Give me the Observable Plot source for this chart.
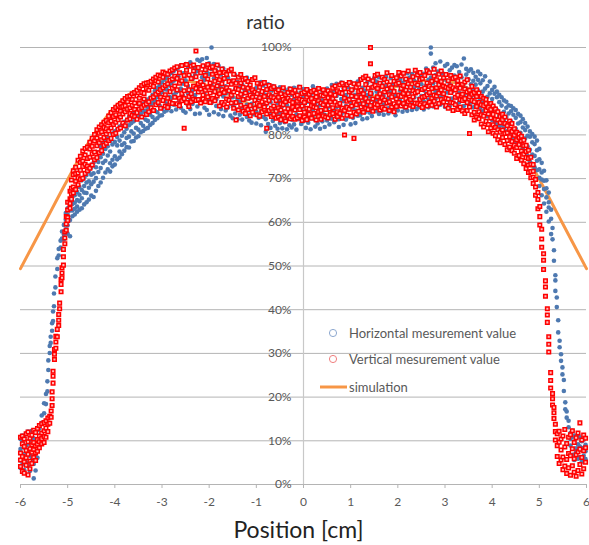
<!DOCTYPE html>
<html>
<head>
<meta charset="utf-8">
<script src="https://cdn.jsdelivr.net/npm/d3@7"></script>
<script src="https://cdn.jsdelivr.net/npm/@observablehq/plot@0.6"></script>
<style>
  html, body { margin: 0; padding: 0; background: #fff; }
  #wrap { position: relative; width: 589px; height: 545px; font-family: Lato, "Open Sans", sans-serif; }
  .lg { position: absolute; font-size: 13px; color: #595959; white-space: nowrap; line-height: 16px; }
  .lgsym { position: absolute; }
</style>
</head>
<body>
<div id="wrap"></div>
<script>
// ---- data (values in %) ----
const xTicks = [-6,-5,-4,-3,-2,-1,0,1,2,3,4,5,6];
const yTicks = [0,10,20,30,40,50,60,70,80,90,100];
const seriesNames = ["Horizontal mesurement value", "Vertical mesurement value", "simulation"];

const simX = [-6,-5.5,-5,-4.5,-4,-3.5,-3,-2.5,-2,-1.5,-1,-0.5,0,0.5,1,1.5,2,2.5,3,3.5,4,4.5,5,5.5,6];
const simY = [49.4,59.6,69.8,79.2,86.4,90.6,92.5,92.4,91.2,88.8,86.4,84.6,84.0,84.6,86.4,88.8,91.2,92.4,92.5,90.6,86.4,79.2,69.8,59.6,49.4];

// Horizontal measurement: [position cm, [ratio values %]]
const horizontal = [
[-6.00,[5.5,8.1,10.4,3.8]],[-5.96,[7.0,9.6,4.6,11.2]],[-5.92,[6.2,10.8,8.4,3.3]],[-5.88,[5.1,8.9,11.6,6.8]],
[-5.84,[4.2,9.4,7.2,12.1]],[-5.80,[6.6,10.2,8.0,3.1]],[-5.76,[5.8,9.0,12.3,7.3]],[-5.72,[1.4,8.2,10.6,4.7]],
[-5.68,[3.2,7.0,11.8,9.6]],[-5.64,[8.8,12.4,10.1,6.1]],[-5.60,[11.2,12.8,9.5]],[-5.55,[14.1,15.8]],
[-5.50,[16.3,18.6]],[-5.46,[18.4,20.7]],[-5.43,[21.3,23.6]],[-5.41,[26.2,28.4]],[-5.38,[30.1,31.7]],
[-5.36,[32.4,33.8]],[-5.33,[35.2,36.9]],[-5.31,[37.4,39.6]],[-5.29,[40.8,43.7]],[-5.26,[45.1,47.6]],
[-5.22,[49.3,51.8]],[-5.19,[52.4,53.9]],[-5.15,[54.2,55.8]],[-5.12,[56.3,57.9]],[-5.08,[57.2,59.4,56.1]],
[-5.04,[58.4,60.6,62.1]],[-5.00,[59.3,61.8,63.2,57.4]],[-4.95,[60.5,62.7,64.6,56.8]],
[-4.90,[61.4,64.2,62.7,65.8]],[-4.85,[63.1,61.8,66.2,64.5]],[-4.80,[62.4,65.1,63.6,66.9]],[-4.75,[64.8,62.9,68.1,66.3]],
[-4.70,[63.2,67.4,65.5,69.6]],[-4.65,[66.8,64.1,70.2,68.3]],[-4.60,[64.6,69.1,66.7,70.8]],[-4.55,[67.9,65.2,71.6,69.4]],
[-4.50,[66.1,72.5,68.7,70.9]],[-4.45,[69.3,65.8,73.6,71.2]],[-4.40,[67.2,74.4,70.1,72.6]],[-4.35,[71.5,68.3,76.1,73.8]],
[-4.30,[69.1,77.4,72.4,74.9]],[-4.25,[73.6,70.2,78.2,75.7]],[-4.20,[71.4,76.8,74.1,78.9]],[-4.15,[75.3,72.1,79.2,77.4]],
[-4.10,[73.5,78.6,71.6,76.2]],[-4.05,[77.8,74.3,80.3,72.8]],[-4.00,[75.1,80.8,73.2,78.4]],[-3.95,[77.6,74.4,81.2,79.5]],
[-3.90,[76.2,81.9,78.7,74.8]],[-3.85,[79.8,75.6,82.3,77.7]],[-3.80,[78.1,83.0,76.4,80.6]],[-3.75,[81.4,77.2,83.3,79.3]],
[-3.70,[79.6,84.1,77.1,82.2]],[-3.65,[82.7,78.5,84.4,80.8]],[-3.60,[80.3,84.9,78.6,83.1]],[-3.55,[83.9,79.4,85.3,81.6]],
[-3.50,[81.2,86.0,79.7,84.2]],[-3.45,[84.8,80.6,86.4,82.7]],[-3.40,[82.1,87.1,80.9,85.3]],[-3.35,[85.6,81.4,87.4,83.5]],
[-3.30,[83.2,88.1,81.6,86.4]],[-3.25,[86.8,82.3,88.5,84.6]],[-3.20,[84.1,89.2,82.7,87.3]],[-3.15,[87.9,83.4,90.1,85.5]],
[-3.10,[85.2,90.8,83.8,88.6]],[-3.05,[89.3,84.4,91.4,86.7]],[-3.00,[86.1,92.0,84.5,89.8]],[-2.95,[90.6,85.3,92.7,87.9]],
[-2.90,[87.2,93.1,85.6,90.4]],[-2.85,[91.3,86.4,93.8,88.7]],[-2.80,[88.5,94.2,85.4,91.9]],[-2.75,[92.4,86.9,94.6,89.2]],
[-2.70,[89.7,95.1,85.8,92.8]],[-2.65,[93.3,87.4,95.4,90.1]],[-2.60,[90.6,95.9,86.2,88.4]],[-2.55,[94.1,85.5,91.7,88.9]],
[-2.50,[87.7,96.2,92.5,85.1]],[-2.45,[91.2,86.8,95.7,89.6]],[-2.40,[88.3,96.6,93.4,85.9]],[-2.35,[92.8,87.1,96.0,90.2]],
[-2.30,[89.1,95.3,84.8,93.7]],[-2.25,[94.6,86.5,91.3,97.2]],[-2.20,[87.6,96.9,90.7,84.9]],[-2.15,[93.2,88.4,97.3,91.8]],
[-2.10,[86.2,95.6,89.4,92.6]],[-2.05,[90.9,97.6,85.7,94.3]],[-2.00,[88.2,93.9,84.6,96.4]],[-1.95,[100.0,91.5,87.3,95.1]],
[-1.90,[89.8,96.2,85.2,92.9]],[-1.85,[94.7,86.6,90.6,88.1]],[-1.80,[91.4,84.7,95.8,89.3]],[-1.75,[87.4,93.8,85.9,90.7]],
[-1.70,[92.6,88.8,95.2,84.3]],[-1.65,[85.6,91.1,94.4,89.5]],[-1.60,[90.2,86.3,93.1,87.9]],[-1.55,[84.4,92.4,89.6,94.6]],
[-1.50,[88.6,83.8,91.9,86.7]],[-1.45,[93.7,87.2,90.5,84.9]],[-1.40,[85.8,92.1,88.3,83.6]],[-1.35,[90.9,84.6,93.4,87.5]],
[-1.30,[86.4,91.6,83.5,89.2]],[-1.25,[92.7,88.1,84.8,90.4]],[-1.20,[84.1,89.7,86.9,93.1]],[-1.15,[91.2,83.3,88.4,85.6]],
[-1.10,[87.1,92.6,82.8,90.1]],[-1.05,[84.7,89.5,86.2,93.0]],[-1.00,[90.8,82.6,88.1,85.3]],[-0.95,[86.5,91.9,83.9,89.4]],
[-0.90,[82.2,88.7,85.4,92.1]],[-0.85,[89.9,84.1,91.3,87.2]],[-0.80,[80.7,86.8,89.1,83.6]],[-0.75,[88.4,82.5,91.6,85.7]],
[-0.70,[84.8,90.3,81.6,87.5]],[-0.65,[91.2,86.1,83.2,88.9]],[-0.60,[82.1,88.2,85.6,90.7]],[-0.55,[87.3,81.4,89.8,84.4]],
[-0.50,[85.1,90.9,82.7,88.0]],[-0.45,[89.4,83.8,86.6,81.5]],[-0.40,[82.9,87.7,90.4,85.2]],[-0.35,[86.8,81.3,88.6,84.1]],
[-0.30,[90.6,85.4,82.2,87.9]],[-0.25,[83.5,89.2,86.3,81.7]],[-0.20,[88.1,82.4,90.8,85.8]],[-0.15,[84.7,87.4,81.2,89.5]],
[-0.10,[86.2,91.0,83.6,88.3]],[-0.05,[82.5,85.9,89.7,87.1]],[0.00,[88.8,83.1,86.7,90.5]],[0.05,[81.6,87.5,84.3,89.1]],
[0.10,[85.6,90.2,82.8,87.6]],[0.15,[89.3,83.9,86.1,81.3]],[0.20,[84.2,88.5,91.1,85.7]],[0.25,[87.2,81.9,89.6,83.4]],
[0.30,[82.6,86.4,90.7,88.2]],[0.35,[88.9,84.5,81.4,86.8]],[0.40,[85.3,90.1,83.1,87.9]],[0.45,[81.8,86.9,89.3,84.6]],
[0.50,[87.4,83.3,90.6,85.9]],[0.55,[84.1,88.6,82.4,86.5]],[0.60,[89.7,85.2,91.4,83.7]],[0.65,[82.9,87.8,85.5,90.2]],
[0.70,[86.4,91.7,84.2,88.9]],[0.75,[83.6,89.4,86.9,81.8]],[0.80,[88.2,84.7,92.0,86.1]],[0.85,[85.3,90.6,82.3,87.7]],
[0.90,[89.1,83.5,86.6,91.5]],[0.95,[84.2,88.3,90.9,85.8]],[1.00,[87.6,82.4,89.8,92.1]],[1.05,[83.9,90.4,86.2,88.7]],
[1.10,[91.3,85.6,82.7,89.2]],[1.15,[86.8,92.2,84.4,88.1]],[1.20,[84.5,89.6,87.1,92.8]],[1.25,[90.8,86.3,83.6,88.4]],
[1.30,[87.4,93.1,85.2,90.1]],[1.35,[83.8,89.1,91.9,86.6]],[1.40,[88.9,85.1,92.6,87.8]],[1.45,[86.2,90.7,84.3,89.4]],
[1.50,[91.6,87.3,85.7,93.0]],[1.55,[85.4,89.9,88.1,92.2]],[1.60,[90.4,86.6,93.2,84.8]],[1.65,[87.8,91.8,85.5,89.3]],
[1.70,[84.6,88.9,92.7,86.9]],[1.75,[91.1,87.2,89.9,93.3]],[1.80,[86.1,90.6,84.9,88.4]],[1.85,[89.7,93.0,87.3,85.4]],
[1.90,[85.8,88.6,91.6,90.2]],[1.95,[92.4,86.9,89.1,84.5]],[2.00,[88.3,91.4,85.6,93.5]],[2.05,[86.7,90.1,92.8,87.9]],
[2.10,[91.9,85.3,89.4,93.8]],[2.15,[87.2,92.6,86.1,90.4]],[2.20,[89.8,94.1,88.2,85.5]],[2.25,[93.1,86.9,91.2,89.6]],
[2.30,[85.7,90.7,93.9,87.8]],[2.35,[92.3,88.6,86.4,90.9]],[2.40,[87.1,94.2,89.7,85.9]],[2.45,[90.5,86.4,92.8,88.3]],
[2.50,[88.9,93.5,86.8,91.6]],[2.55,[94.0,87.7,90.2,85.8]],[2.60,[86.6,91.3,95.2,89.4]],[2.65,[92.6,88.1,86.3,94.6]],
[2.70,[100.0,98.6,89.2,93.1]],[2.75,[87.4,95.4,91.8,86.5]],[2.80,[93.7,89.8,96.4,88.2]],[2.85,[90.3,86.7,94.5,92.1]],
[2.90,[96.8,88.6,91.4,86.9]],[2.95,[89.2,94.1,87.3,92.6]],[3.00,[93.6,86.4,90.7,95.8]],[3.05,[88.1,92.3,96.2,89.7]],
[3.10,[91.5,87.6,94.8,86.5]],[3.15,[95.4,89.9,88.3,92.9]],[3.20,[87.2,93.6,90.5,96.0]],[3.25,[92.1,88.5,95.7,86.8]],
[3.30,[89.6,94.4,87.5,91.3]],[3.35,[96.1,90.9,88.2,93.2]],[3.40,[86.6,97.5,91.7,89.1]],[3.45,[93.8,88.4,90.6,95.1]],
[3.50,[89.3,92.7,86.9,94.6]],[3.55,[91.6,95.0,88.7,87.4]],[3.60,[86.3,92.4,90.1,94.2]],[3.65,[93.3,88.9,91.5,86.7]],
[3.70,[90.2,94.5,87.6,92.6]],[3.75,[88.1,91.8,93.9,86.2]],[3.80,[92.5,87.3,89.9,85.4]],[3.85,[85.8,90.6,93.4,88.2]],
[3.90,[91.2,86.4,88.7,84.3]],[3.95,[84.9,89.5,92.2,87.1]],[4.00,[90.3,85.6,83.4,88.2]],[4.05,[86.2,89.4,83.1,91.0]],
[4.10,[88.6,82.4,85.7,89.9]],[4.15,[84.3,87.5,81.9,89.2]],[4.20,[86.7,82.2,88.6,84.8]],[4.25,[81.6,85.3,87.9,83.4]],
[4.30,[84.1,87.6,80.8,86.2]],[4.35,[82.3,86.8,80.4,84.9]],[4.40,[85.4,79.7,83.1,86.6]],[4.45,[81.2,84.6,79.3,86.1]],
[4.50,[83.9,78.6,85.7,81.4]],[4.55,[80.2,84.8,78.3,82.6]],[4.60,[82.9,77.7,84.4,80.5]],[4.65,[78.8,83.6,76.9,81.7]],
[4.70,[81.1,75.8,82.7,79.2]],[4.75,[77.4,81.9,75.2,79.8]],[4.80,[79.6,73.9,80.8,76.6]],[4.85,[75.5,80.2,73.1,78.3]],
[4.90,[77.9,72.6,79.6,75.2]],[4.95,[74.1,78.7,71.9,76.5]],
[5.00,[68.3,72.1,76.8,74.4,70.2]],[5.05,[66.2,69.8,73.6,71.4]],[5.10,[64.3,67.6,71.8,69.5]],[5.15,[62.4,65.7,69.6,67.8]],
[5.20,[60.2,63.4,66.8,64.6]],[5.25,[57.3,60.8,62.9]],[5.28,[56.1,58.7]],[5.31,[51.2,53.6]],[5.34,[44.3,46.7,47.9]],
[5.37,[40.6,42.8]],[5.40,[34.8,37.6]],[5.43,[31.4,32.9]],[5.46,[28.3,29.8]],[5.49,[25.2,26.8]],[5.52,[21.4,23.9]],
[5.55,[17.2,18.8]],[5.58,[15.3,16.7]],[5.62,[13.1,14.6]],[5.66,[10.4,11.8,8.9]],[5.70,[6.8,10.9,12.3]],
[5.74,[5.6,9.8,11.2]],[5.78,[7.4,10.6,8.3]],[5.82,[5.9,9.2,11.5]],[5.86,[6.3,8.7,10.8]],[5.90,[5.2,7.9,9.9]],
[5.94,[6.6,8.4,10.3]],[5.98,[5.8,7.6,9.1]]
];

// Vertical measurement: [position cm, [ratio values %]]
const vertical = [
[-6.00,[4.1,7.2,10.8,5.6]],[-5.96,[3.0,6.4,9.3,11.1]],[-5.92,[5.2,8.7,2.6,10.4]],[-5.88,[4.4,7.8,11.6,6.1]],
[-5.84,[2.2,6.9,9.8,12.0]],[-5.80,[3.6,8.2,10.6,5.3]],[-5.76,[4.8,7.4,11.3,9.1]],[-5.72,[6.2,9.6,12.4,8.0]],
[-5.68,[5.5,8.8,11.9,7.2]],[-5.64,[7.6,10.3,12.8,9.2]],[-5.60,[8.4,11.1,13.5,9.8]],[-5.55,[9.3,11.8,13.9,10.5]],
[-5.50,[9.6,12.3,14.2,11.0]],[-5.46,[10.8,12.9,14.6]],[-5.42,[12.1,13.8,15.2]],[-5.38,[14.0,15.6]],[-5.35,[15.4,16.8]],
[-5.33,[18.1,19.6,21.2]],[-5.31,[23.2,24.8,25.9]],[-5.28,[28.6,29.8,30.9]],[-5.25,[31.2,32.6,33.9]],[-5.22,[33.8,35.5]],
[-5.19,[36.4,37.6,38.9]],[-5.17,[40.2,41.5]],[-5.14,[44.1,45.8,46.9]],[-5.12,[47.3,48.4,49.6]],[-5.09,[50.2,52.1,53.8]],
[-5.06,[55.1,56.4,57.8]],[-5.03,[58.2,59.6,61.3]],[-5.00,[61.1,62.8,64.6,60.4]],[-4.95,[63.2,65.4,67.1,64.3]],
[-4.92,[65.3,67.8,69.7,66.5]],
[-4.88,[68.1,70.9,66.7,71.8]],[-4.83,[69.4,72.6,67.5,71.1]],[-4.78,[71.3,68.6,74.2,70.2]],[-4.73,[69.8,73.7,71.9,75.1]],
[-4.68,[72.8,70.1,76.3,74.0]],[-4.63,[71.2,75.4,73.3,76.9]],[-4.58,[74.6,71.8,77.2,72.9]],[-4.53,[72.4,76.8,74.9,78.3]],
[-4.48,[75.7,73.1,79.2,77.4]],[-4.43,[74.3,78.6,76.1,80.1]],[-4.38,[77.5,74.8,81.2,79.3]],[-4.33,[75.9,80.4,78.2,81.8]],
[-4.28,[78.9,76.4,82.3,80.7]],[-4.23,[77.6,81.7,79.4,82.9]],[-4.18,[80.2,78.1,83.3,81.4]],[-4.13,[78.7,82.8,80.9,84.3]],
[-4.08,[81.6,79.2,85.1,83.2]],[-4.03,[80.1,84.2,82.4,85.8]],[-3.98,[82.9,80.4,86.3,84.6]],[-3.93,[81.3,85.7,83.5,86.8]],
[-3.88,[84.1,81.6,87.2,85.4]],[-3.83,[82.7,86.5,84.8,87.8]],[-3.78,[85.3,82.1,88.3,86.7]],[-3.73,[83.4,87.6,85.9,88.8]],
[-3.68,[86.2,83.7,88.9,84.9]],[-3.63,[84.5,88.1,86.8,89.4]],[-3.58,[87.3,84.2,89.7,85.8]],[-3.53,[85.1,88.9,83.6,90.2]],
[-3.48,[88.4,85.9,90.8,87.2]],[-3.43,[86.3,89.7,84.1,91.3]],[-3.38,[89.5,86.8,91.7,88.2]],[-3.33,[87.1,90.6,84.7,91.9]],
[-3.28,[90.2,87.6,85.3,92.0]],[-3.23,[88.4,91.5,86.2,92.3]],[-3.18,[91.1,88.7,92.8,85.6]],[-3.13,[89.3,92.4,86.9,93.2]],
[-3.08,[92.1,89.8,87.4,93.7]],[-3.03,[90.4,93.5,86.1,88.6]],[-2.98,[93.2,90.8,87.9,94.4]],[-2.93,[91.3,86.6,94.1,89.2]],
[-2.88,[88.4,93.9,91.7,86.3]],[-2.83,[94.6,89.9,87.5,92.5]],[-2.78,[90.7,87.2,94.9,92.8]],[-2.73,[93.4,88.6,91.2,95.3]],
[-2.68,[87.1,95.6,90.3,92.9]],[-2.63,[91.8,88.4,94.2,86.7]],[-2.58,[89.5,95.9,92.4,87.8]],[-2.53,[81.5,93.6,90.1,88.3]],
[-2.48,[94.8,87.4,91.6,96.1]],[-2.43,[90.3,93.7,88.8,86.5]],[-2.38,[92.9,89.4,95.7,87.6]],[-2.33,[88.2,94.6,91.1,96.0]],
[-2.28,[99.2,90.6,93.3,87.9]],[-2.23,[91.7,88.1,95.4,89.8]],[-2.18,[94.2,87.3,92.1,90.5]],[-2.13,[89.1,95.8,91.4,88.2]],
[-2.08,[93.6,90.2,87.6,94.9]],[-2.03,[88.7,92.8,96.1,90.9]],[-1.98,[95.3,89.6,91.9,87.4]],[-1.93,[90.8,93.9,88.3,95.6]],
[-1.88,[87.8,92.3,94.7,89.9]],[-1.83,[93.5,88.9,91.2,96.0]],[-1.78,[89.4,94.2,86.6,92.6]],[-1.73,[91.7,87.4,95.1,90.3]],
[-1.68,[86.9,92.9,89.7,94.3]],[-1.63,[93.8,88.2,90.8,86.4]],[-1.58,[90.1,94.7,87.9,92.2]],[-1.53,[87.3,91.6,95.0,89.1]],
[-1.48,[92.4,86.1,89.8,93.9]],[-1.43,[83.4,90.6,87.4,91.8]],[-1.38,[88.8,93.2,85.7,90.4]],[-1.33,[91.9,86.8,89.3,93.8]],
[-1.28,[85.4,90.9,92.6,88.1]],[-1.23,[89.6,86.3,92.9,84.9]],[-1.18,[92.2,88.4,85.8,90.7]],[-1.13,[86.7,91.4,89.1,84.4]],
[-1.08,[90.3,85.2,92.7,88.6]],[-1.03,[87.9,93.1,86.1,89.8]],[-0.98,[84.6,89.4,91.8,87.2]],[-0.93,[90.9,86.7,88.5,84.3]],
[-0.88,[87.6,91.7,85.3,89.9]],[-0.83,[85.9,88.8,92.0,86.4]],[-0.78,[81.5,90.4,87.3,84.8]],[-0.73,[89.2,85.6,91.3,87.9]],
[-0.68,[86.1,90.6,84.2,88.7]],[-0.63,[88.5,84.7,91.0,86.6]],[-0.58,[83.8,87.9,89.8,85.4]],[-0.53,[90.3,86.2,84.1,88.6]],
[-0.48,[85.7,89.4,87.1,83.5]],[-0.43,[88.1,84.5,90.8,86.9]],[-0.38,[83.2,87.6,89.2,85.3]],[-0.33,[89.7,86.0,84.3,88.4]],
[-0.28,[85.1,90.5,87.8,83.7]],[-0.23,[87.4,84.2,89.6,86.3]],[-0.18,[83.6,88.9,85.7,90.2]],[-0.13,[89.1,86.5,83.9,87.7]],
[-0.08,[84.4,90.9,88.2,85.8]],[-0.03,[87.9,83.3,86.6,89.5]],[0.02,[85.2,89.8,84.1,87.4]],[0.07,[88.6,86.1,90.4,83.5]],
[0.12,[84.7,87.9,89.3,85.9]],[0.17,[89.9,83.8,86.7,88.3]],[0.22,[86.4,90.2,84.9,87.5]],[0.27,[83.4,88.7,86.2,89.6]],
[0.32,[87.8,85.3,90.6,84.2]],[0.37,[85.6,89.1,83.6,87.3]],[0.42,[88.9,84.4,86.9,90.3]],[0.47,[84.1,87.7,89.5,85.8]],
[0.52,[86.8,90.1,83.9,88.5]],[0.57,[89.4,85.1,87.6,84.6]],[0.62,[84.9,88.3,90.7,86.2]],[0.67,[87.5,83.6,91.2,89.1]],
[0.72,[85.3,90.1,86.8,84.2]],[0.77,[91.4,87.2,84.9,89.7]],[0.82,[86.1,89.5,83.8,91.8]],[0.87,[80.0,88.4,85.6,90.6]],
[0.92,[84.5,91.5,87.7,86.3]],[0.97,[89.8,85.9,92.0,88.1]],[1.02,[86.6,90.3,84.3,88.9]],[1.07,[79.2,87.4,91.7,85.2]],
[1.12,[88.7,84.8,90.9,86.9]],[1.17,[85.4,91.6,87.8,89.9]],[1.22,[90.2,86.4,88.6,92.7]],[1.27,[87.1,93.1,85.2,89.4]],
[1.32,[91.5,88.3,86.1,93.4]],[1.37,[85.8,90.7,92.8,87.6]],[1.42,[100.0,96.3,89.5,86.7]],[1.47,[88.2,92.4,85.4,90.9]],
[1.52,[93.6,87.1,91.3,86.2]],[1.57,[86.9,90.6,88.7,93.9]],[1.62,[91.8,85.7,89.4,87.6]],[1.67,[88.5,93.2,86.3,91.1]],
[1.72,[85.9,89.8,92.7,88.0]],[1.77,[92.1,87.3,90.5,94.2]],[1.82,[87.6,91.4,85.6,89.2]],[1.87,[90.8,86.4,93.6,88.7]],
[1.92,[85.3,92.3,89.9,87.1]],[1.97,[93.1,88.2,86.5,91.6]],[2.02,[87.4,91.9,94.3,89.1]],[2.07,[90.6,86.6,88.8,93.5]],
[2.12,[94.1,89.5,87.2,91.3]],[2.17,[88.3,92.8,86.4,90.2]],[2.22,[91.7,87.6,94.6,89.4]],[2.27,[86.8,90.9,92.5,88.1]],
[2.32,[93.3,88.7,90.1,86.5]],[2.37,[89.6,94.8,87.3,91.8]],[2.42,[87.2,91.4,93.7,89.9]],[2.47,[92.6,88.1,86.9,94.3]],
[2.52,[90.4,86.3,92.9,88.6]],[2.57,[88.8,93.6,90.7,87.1]],[2.62,[94.7,89.2,86.6,91.9]],[2.67,[87.5,91.1,94.2,89.7]],
[2.72,[92.3,88.4,90.6,86.8]],[2.77,[89.1,95.0,87.7,93.4]],[2.82,[86.4,90.8,92.6,88.9]],[2.87,[93.9,89.6,87.2,91.5]],
[2.92,[88.1,92.2,94.6,90.3]],[2.97,[91.2,87.5,89.4,93.1]],[3.02,[86.7,90.9,93.8,88.4]],[3.07,[92.4,88.2,86.1,90.6]],
[3.12,[89.7,93.6,87.4,91.2]],[3.17,[87.3,90.8,92.9,85.6]],[3.22,[93.2,88.6,90.3,86.9]],[3.27,[89.1,92.4,85.8,91.4]],
[3.32,[86.4,90.7,93.5,88.1]],[3.37,[91.6,87.9,89.3,85.5]],[3.42,[88.3,92.1,84.9,90.5]],[3.47,[85.6,89.8,92.6,87.4]],
[3.52,[80.3,90.2,86.4,88.7]],[3.57,[87.9,84.6,91.1,89.3]],[3.62,[85.2,89.7,83.4,87.6]],[3.67,[88.8,84.1,90.3,86.5]],
[3.72,[83.7,87.4,89.6,85.3]],[3.77,[86.9,82.5,88.8,84.6]],[3.82,[84.3,88.4,81.8,86.7]],[3.87,[87.2,83.1,85.6,88.1]],
[3.92,[82.4,86.3,80.7,84.8]],[3.97,[85.8,81.6,87.2,83.9]],[4.02,[80.4,84.7,86.6,82.3]],[4.07,[83.6,79.8,85.9,81.7]],
[4.12,[81.2,85.3,78.9,83.4]],[4.17,[84.2,80.6,82.8,78.2]],[4.22,[79.4,83.5,81.1,84.7]],[4.27,[82.6,77.8,80.3,84.1]],
[4.32,[78.7,82.1,76.6,80.5]],[4.37,[81.3,77.2,83.2,79.6]],[4.42,[76.4,80.8,78.5,82.6]],[4.47,[79.9,75.8,81.4,77.6]],
[4.52,[77.1,80.6,74.6,78.9]],[4.57,[79.4,75.3,77.8,80.2]],[4.62,[74.2,78.6,76.3,79.7]],[4.67,[77.5,73.4,78.8,75.6]],
[4.72,[74.8,77.6,72.3,76.2]],[4.77,[73.1,76.5,71.4,74.6]],[4.82,[71.6,74.9,70.2,73.3]],[4.87,[70.3,73.2,68.9,71.7]],
[4.92,[66.2,68.1,69.8]],[4.97,[63.1,65.2,66.8]],[5.01,[59.4,61.3,63.6]],[5.05,[54.3,56.2,58.4]],[5.09,[49.2,51.3,52.8]],
[5.13,[43.1,45.2,46.6]],[5.17,[37.1,38.8,40.2]],[5.20,[30.3,32.1,33.8]],[5.24,[22.1,23.8,25.6]],[5.28,[18.2,19.6,20.8]],
[5.31,[15.1,16.4,17.6]],[5.34,[10.2,12.1,13.8]],[5.38,[6.4,8.9,11.6]],[5.42,[4.8,9.7,12.2]],[5.46,[5.6,7.9,10.4]],
[5.50,[3.4,6.3,11.1]],[5.54,[4.2,8.6,12.6]],[5.58,[2.5,5.7,9.4]],[5.62,[3.8,7.1,10.8]],[5.66,[2.1,6.6,11.4]],
[5.70,[4.3,8.2,12.3]],[5.74,[2.8,5.9,9.6]],[5.78,[1.9,6.8,10.7]],[5.82,[3.2,7.5,11.8]],[5.86,[4.6,8.1,14.1]],
[5.90,[2.4,6.2,10.2]],[5.94,[3.6,7.7,11.3]],[5.98,[5.1,8.4,10.6]]
];

// ---- build tables ----
const flatten = (stations) => stations.flatMap(([x, ys]) => ys.map(y => ({x, y})));
const hData = flatten(horizontal);
const vData = flatten(vertical);
const simData = simX.map((x, i) => ({x, y: simY[i]}));

const chart = Plot.plot({
  width: 589,
  height: 545,
  marginTop: 47,
  marginBottom: 61,
  marginLeft: 20,
  marginRight: 3,
  style: {fontFamily: "Lato, 'Open Sans', sans-serif", fontSize: "12px", color: "#595959", background: "white"},
  x: {domain: [-6, 6]},
  y: {domain: [0, 100], axis: null},
  marks: [
    Plot.ruleY(yTicks, {stroke: "#b4b4b4", strokeWidth: 1}),
    Plot.ruleX([0], {stroke: "#c8c8c8", strokeWidth: 1.2}),
    Plot.axisX({ticks: xTicks, tickSize: 4, tickPadding: 9, tickFormat: d => String(d), stroke: "#b4b4b4", fill: "#595959", label: null, fontSize: 12}),
    Plot.text(yTicks, {x: 0, y: d => d, text: d => d + "%", textAnchor: "end", dx: -12, fill: "#595959", fontSize: 12}),
    Plot.line(simData, {x: "x", y: "y", stroke: "#f79646", strokeWidth: 3, curve: "catmull-rom"}),
    Plot.dot(hData, {x: "x", y: "y", r: 2.3, fill: "#4e79b0", stroke: "none"}),
    Plot.dot(vData, {x: "x", y: "y", symbol: "square", r: 2.0, stroke: "#ff0000", strokeWidth: 1.5, fill: "#ffb8b8"}),
    Plot.text(["ratio"], {frameAnchor: "top", lineAnchor: "bottom", dx: -38, dy: -19, fontSize: 19, fill: "#333"}),
    Plot.text(["Position [cm]"], {frameAnchor: "bottom", lineAnchor: "bottom", dx: -5, dy: 53, fontSize: 23, fill: "#222"})
  ]
});

const wrap = document.getElementById("wrap");
wrap.appendChild(chart);

// ---- legend (inside plot area) ----
function addLegend(top, name, kind) {
  const sym = document.createElementNS("http://www.w3.org/2000/svg", "svg");
  sym.setAttribute("class", "lgsym");
  sym.setAttribute("width", 30);
  sym.setAttribute("height", 10);
  sym.style.left = "319px";
  sym.style.top = (top - 5) + "px";
  if (kind === "line") {
    const l = document.createElementNS("http://www.w3.org/2000/svg", "line");
    l.setAttribute("x1", 1); l.setAttribute("x2", 28); l.setAttribute("y1", 5); l.setAttribute("y2", 5);
    l.setAttribute("stroke", "#f79646"); l.setAttribute("stroke-width", 3);
    sym.appendChild(l);
  } else {
    const c = document.createElementNS("http://www.w3.org/2000/svg", "circle");
    c.setAttribute("cx", 14); c.setAttribute("cy", 5); c.setAttribute("r", 3.6);
    c.setAttribute("fill", "none"); c.setAttribute("stroke", kind); c.setAttribute("stroke-width", 1);
    sym.appendChild(c);
  }
  wrap.appendChild(sym);
  const t = document.createElement("div");
  t.className = "lg";
  t.textContent = name;
  t.style.left = "349px";
  t.style.top = (top - 8) + "px";
  wrap.appendChild(t);
}
addLegend(333, seriesNames[0], "#8ea9d0");
addLegend(359, seriesNames[1], "#f08080");
addLegend(387, seriesNames[2], "line");
</script>
</body>
</html>
